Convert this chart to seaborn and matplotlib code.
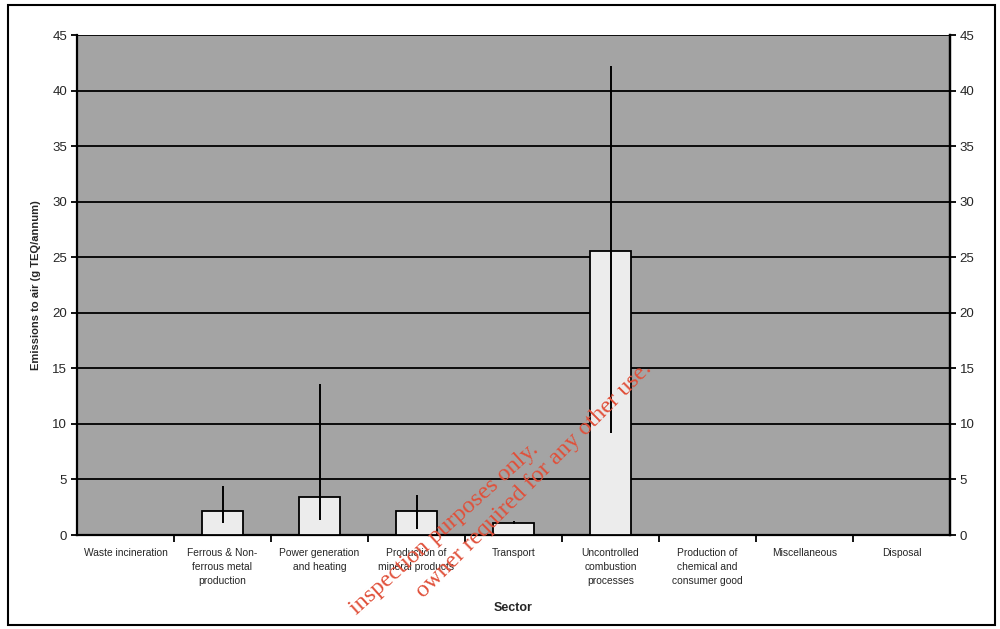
import numpy as np
import pandas as pd
import matplotlib
matplotlib.use("Agg")
import matplotlib.pyplot as plt
import seaborn as sns
from matplotlib.patches import Rectangle

# ── Data ──────────────────────────────────────────────────────────────────────
SECTORS = [
    "Waste incineration",
    "Ferrous & Non-\nferrous metal\nproduction",
    "Power generation\nand heating",
    "Production of\nmineral products",
    "Transport",
    "Uncontrolled\ncombustion\nprocesses",
    "Production of\nchemical and\nconsumer good",
    "Miscellaneous",
    "Disposal",
]
EMISSIONS = [0.0, 2.2, 3.4, 2.2, 1.1, 25.6, 0.0, 0.0, 0.0]
RANGE_LOW = [np.nan, 1.1, 1.35, 0.5, 0.95, 9.2, np.nan, np.nan, np.nan]
RANGE_HIGH = [np.nan, 4.4, 13.6, 3.6, 1.3, 42.2, np.nan, np.nan, np.nan]
Y_TICKS = list(range(0, 50, 5))

# ── Style ─────────────────────────────────────────────────────────────────────
PLOT_BG = "#a4a4a4"
BAR_FILL = "#ececec"
WATERMARK = "#e0503a"

sns.set_theme(style="white")
plt.rcParams["font.family"] = ["Liberation Sans", "DejaVu Sans"]

df = pd.DataFrame({"Sector": SECTORS, "Emissions": EMISSIONS,
                   "low": RANGE_LOW, "high": RANGE_HIGH})

fig = plt.figure(figsize=(10, 6.29), dpi=100)
ax = fig.add_axes([0.077, 0.1494, 0.873, 0.7946])
ax.set_facecolor(PLOT_BG)

sns.barplot(data=df, x="Sector", y="Emissions", ax=ax, color=BAR_FILL,
            edgecolor="black", linewidth=1.3, width=0.42, saturation=1,
            errorbar=None, zorder=3)

# asymmetric uncertainty ranges
has_err = df["low"].notna()
xpos = np.arange(len(df))[has_err]
sub = df[has_err]
ax.errorbar(xpos, sub["Emissions"],
            yerr=[sub["Emissions"] - sub["low"], sub["high"] - sub["Emissions"]],
            fmt="none", ecolor="black", elinewidth=1.4, capsize=0, zorder=4)

ax.set_ylim(0, 45)
ax.set_xlim(-0.5, len(SECTORS) - 0.5)
ax.set_yticks(Y_TICKS)
ax.yaxis.grid(True, color="black", linewidth=1.3)
ax.set_axisbelow(True)
for gl in ax.get_ygridlines():
    gl.set_zorder(1)

# category boundaries as ticks, names centered between
ax.set_xticks(np.arange(len(SECTORS)), SECTORS, fontsize=7.4, linespacing=1.5,
              va="top")
ax.tick_params(axis="x", length=0, pad=9)
ax.set_xticks(np.arange(len(SECTORS) - 1) + 0.5, minor=True)
ax.tick_params(axis="x", which="minor", length=5, width=1.3, color="black",
               direction="out", bottom=True)
ax.tick_params(axis="y", length=4, width=1.3, color="black", direction="out",
               labelsize=9.5, left=True, pad=3)

for side in ["left", "bottom", "right"]:
    ax.spines[side].set_color("black")
    ax.spines[side].set_linewidth(1.6)
ax.spines["top"].set_visible(False)

ax2 = ax.twinx()
ax2.set_ylim(ax.get_ylim())
ax2.set_yticks(Y_TICKS)
ax2.tick_params(axis="y", length=4, width=1.3, color="black", direction="out",
                labelsize=9.5, right=True, pad=3)
for side in ["left", "bottom", "top"]:
    ax2.spines[side].set_visible(False)
ax2.spines["right"].set_color("black")
ax2.spines["right"].set_linewidth(1.6)
ax2.grid(False)

ax.set_xlabel("Sector", fontsize=9, fontweight="bold", labelpad=12)
ax.set_ylabel("Emissions to air (g TEQ/annum)", fontsize=8, fontweight="bold",
              labelpad=8)

# outer frame
fig.patches.append(Rectangle((0.008, 0.006), 0.987, 0.986, transform=fig.transFigure,
                             fill=False, edgecolor="black", linewidth=1.5))

# scanned watermark (only the part that shows on the page)
wm = dict(color=WATERMARK, fontsize=17.5, rotation_mode="anchor",
          ha="right", va="baseline", family=["Liberation Serif", "DejaVu Serif"])
fig.text(0.539, 0.283, "inspection purposes only.", rotation=42, **wm)
fig.text(0.653, 0.413, "owner required for any other use.", rotation=45, **wm)

fig.savefig("out.png", dpi=100)
